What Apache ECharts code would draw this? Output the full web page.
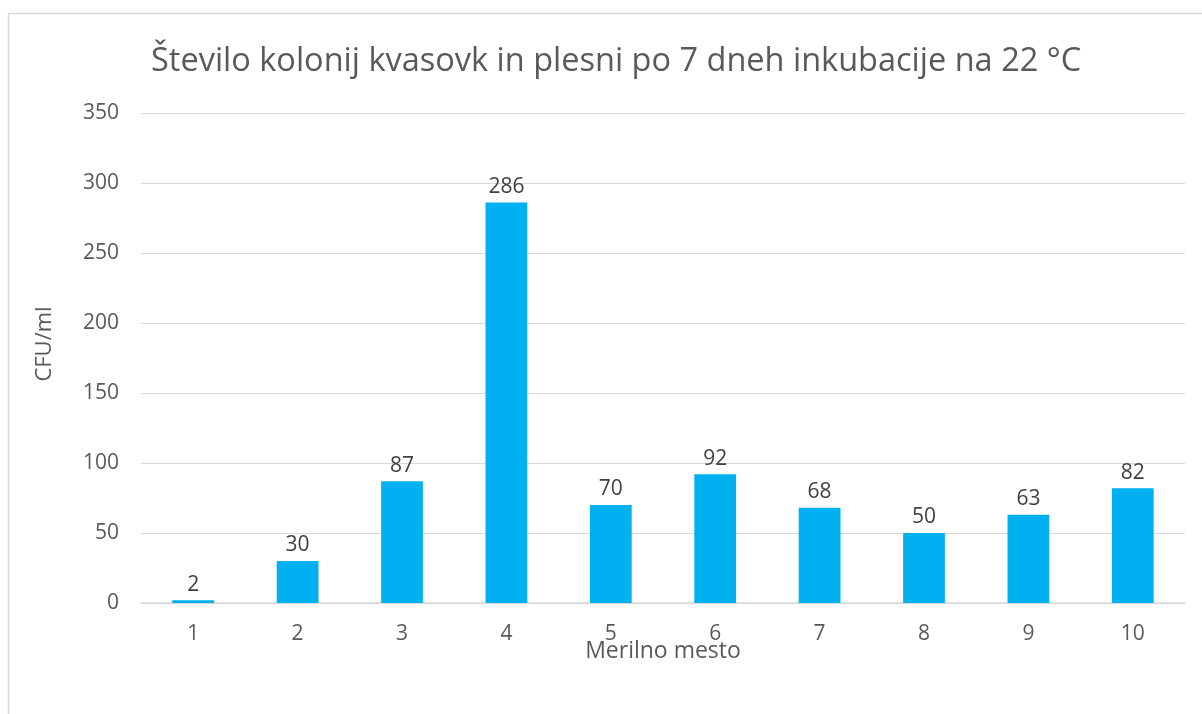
<!DOCTYPE html>
<html>
<head>
<meta charset="utf-8">
<script src="https://cdn.jsdelivr.net/npm/echarts@6/dist/echarts.min.js"></script>
<style>
  html, body { margin: 0; padding: 0; background: #fff; }
  #chart { width: 1202px; height: 714px; }
</style>
</head>
<body>
<div id="chart"></div>
<script>
// merilna mesta in izmerjene vrednosti
const categories = ['1', '2', '3', '4', '5', '6', '7', '8', '9', '10'];
const cfuValues = [2, 30, 87, 286, 70, 92, 68, 50, 63, 82];
const yTicks = [0, 50, 100, 150, 200, 250, 300, 350];

const textColor = '#595959';
const fontFamily = '"Open Sans", "DejaVu Sans", sans-serif';

const chart = echarts.init(document.getElementById('chart'));
chart.setOption({
  animation: false,
  textStyle: { fontFamily: fontFamily },
  graphic: [
    {
      type: 'rect',
      shape: { x: 8.5, y: 13.5, width: 1230, height: 740 },
      style: { fill: 'none', stroke: '#d9d9d9', lineWidth: 1.5 },
      silent: true
    },
    {
      // naslov osi y, malo nad sredino kot v originalu
      type: 'text',
      x: 45,
      y: 344,
      rotation: Math.PI / 2,
      style: {
        text: 'CFU/ml',
        fill: textColor,
        font: '22px ' + fontFamily,
        align: 'center',
        verticalAlign: 'middle'
      },
      silent: true
    }
  ],
  title: {
    text: 'Število kolonij kvasovk in plesni po 7 dneh inkubacije na 22 °C',
    left: 146,
    top: 40,
    textStyle: {
      color: textColor,
      fontSize: 32.5,
      fontWeight: 'normal',
      fontFamily: fontFamily
    }
  },
  grid: { left: 141, right: 17, top: 113, bottom: 111, containLabel: false },
  xAxis: {
    type: 'category',
    data: categories,
    name: 'Merilno mesto',
    nameLocation: 'middle',
    nameMoveOverlap: false,
    nameGap: 37,
    nameTextStyle: { color: textColor, fontSize: 23 },
    axisLine: { lineStyle: { color: '#d9d9d9', width: 1.5 } },
    axisTick: { show: false },
    axisLabel: { color: textColor, fontSize: 21, margin: 21 }
  },
  yAxis: {
    type: 'value',
    min: yTicks[0],
    max: yTicks[yTicks.length - 1],
    interval: yTicks[1] - yTicks[0],
    axisLine: { show: false },
    axisTick: { show: false },
    axisLabel: { color: textColor, fontSize: 21, margin: 22 },
    splitLine: { lineStyle: { color: '#d9d9d9', width: 1.2 } }
  },
  series: [
    {
      type: 'bar',
      data: cfuValues,
      barCategoryGap: '60%',
      itemStyle: { color: '#00b0f0' },
      label: {
        show: true,
        position: 'top',
        distance: 5,
        color: '#404040',
        fontSize: 21,
        fontFamily: fontFamily
      }
    }
  ]
});
</script>
</body>
</html>
